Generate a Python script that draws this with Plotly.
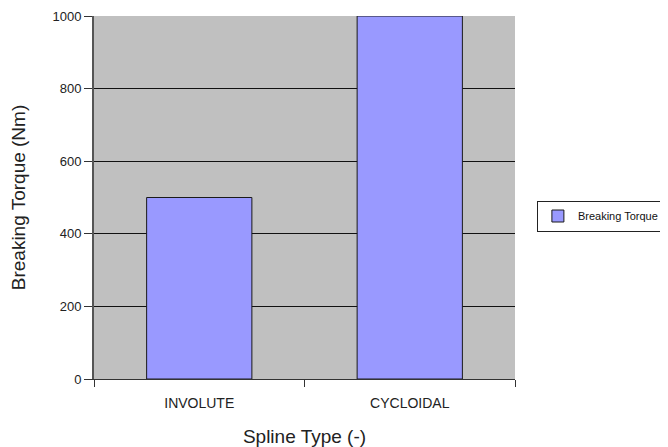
import plotly.graph_objects as go

categories = ["INVOLUTE", "CYCLOIDAL"]
torque = [500, 1000]
series_name = "Breaking Torque"

fig = go.Figure()
fig.add_trace(go.Bar(
    x=categories, y=torque, name=series_name,
    marker=dict(color="#9999FF", line=dict(color="#1a1a1a", width=1)),
    showlegend=True,
))

fig.update_layout(
    width=660, height=439,
    margin=dict(l=86, r=153, t=8, b=68, autoexpand=False),
    paper_bgcolor="white", plot_bgcolor="#C0C0C0",
    bargap=0.5,
    font=dict(family="Liberation Sans, Arial, sans-serif", color="#222"),
    showlegend=True,
    legend=dict(x=1.052, y=0.449, xanchor="left", yanchor="middle",
                bordercolor="#222", borderwidth=1, bgcolor="white",
                font=dict(size=11, color="#111"),
                itemwidth=30, tracegroupgap=0),
)

fig.update_xaxes(
    title=dict(text="Spline Type (-)", font=dict(size=19, color="#222"), standoff=19),
    tickfont=dict(size=14, color="#222"),
    showline=True, linecolor="#333", linewidth=1,
    ticks="outside", ticklen=7, tickcolor="#333", tickson="boundaries",
    ticklabelstandoff=11,
    showgrid=False,
)
fig.update_yaxes(
    title=dict(text="Breaking Torque (Nm)", font=dict(size=19, color="#222"), standoff=29),
    tickfont=dict(size=13, color="#222"),
    range=[0, 1000], dtick=200,
    showline=True, linecolor="#555", linewidth=2,
    ticks="outside", ticklen=8, tickcolor="#333",
    showgrid=True, gridcolor="#111", gridwidth=1,
    zeroline=False,
)

fig.write_html("out.html")
